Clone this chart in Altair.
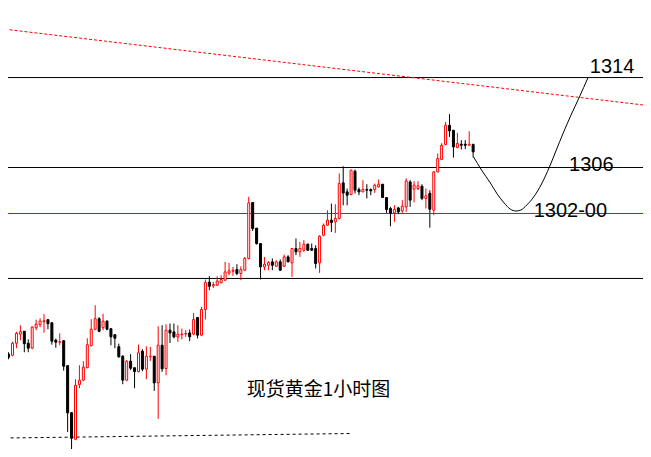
import altair as alt
import pandas as pd

# ---- candle data (1-hour gold) ----
opens = [1289.65,1289.48,1289.39,1290.45,1291.25,1291.51,1290.45,1290.01,1291.82,1292.09,
1292.35,1292.53,1292.26,1290.72,1290.54,1290.67,1288.46,1284.30,1281.95,1286.78,
1287.18,1288.28,1290.23,1291.69,1292.62,1291.82,1292.40,1291.73,1291.20,1290.14,
1289.30,1287.18,1288.86,1288.28,1287.93,1289.74,1288.15,1289.25,1289.30,1286.94,
1290.27,1288.21,1291.60,1291.45,1291.01,1291.20,1291.27,1291.36,1291.25,1292.72,
1291.16,1293.43,1295.85,1295.52,1295.58,1295.79,1296.03,1296.67,1296.82,1296.97,
1296.62,1296.91,1297.95,1302.90,1300.63,1299.27,1297.20,1297.35,1297.65,1297.26,
1297.65,1297.26,1298.09,1297.56,1298.83,1298.53,1298.68,1299.21,1298.83,1298.83,
1297.56,1300.01,1300.89,1301.34,1301.19,1301.49,1304.64,1303.84,1303.61,1305.67,
1304.05,1303.84,1304.05,1304.05,1304.05,1304.28,1304.52,1303.34,1302.37,1301.98,
1302.42,1302.16,1302.51,1304.72,1304.08,1304.14,1304.34,1303.26,1303.72,1302.22,
1305.61,1306.71,1308.03,1309.74,1309.30,1307.77,1308.06,1308.06,1307.97,1308.03]

highs = [1289.74,1289.65,1290.58,1291.47,1292.04,1291.51,1290.80,1291.95,1292.53,1292.66,
1293.02,1292.57,1292.31,1290.85,1291.33,1290.72,1288.50,1284.34,1287.26,1288.50,
1288.86,1290.89,1292.57,1293.81,1292.75,1293.06,1292.49,1291.78,1291.25,1290.41,
1289.39,1288.95,1289.48,1288.28,1290.32,1289.92,1290.18,1290.12,1289.30,1291.95,
1292.04,1292.13,1292.19,1292.19,1292.04,1291.75,1291.60,1291.66,1293.13,1292.78,
1293.66,1296.09,1296.38,1295.88,1296.38,1296.47,1297.65,1297.56,1297.20,1297.44,
1297.26,1298.09,1303.40,1302.93,1300.65,1299.27,1298.09,1297.71,1297.95,1297.80,
1297.86,1298.30,1298.24,1298.83,1299.72,1299.42,1299.57,1299.27,1299.27,1299.12,
1300.01,1301.04,1302.22,1302.81,1302.75,1305.47,1306.11,1304.14,1305.82,1305.82,
1304.23,1304.88,1304.52,1304.14,1304.58,1304.94,1304.52,1303.34,1302.51,1302.66,
1302.51,1303.11,1305.03,1304.88,1304.79,1304.79,1304.52,1304.14,1303.99,1305.67,
1307.24,1308.15,1310.03,1310.72,1309.30,1309.06,1308.42,1308.42,1309.21,1308.12]

lows = [1289.30,1289.03,1289.30,1290.01,1290.72,1289.65,1289.65,1289.92,1291.60,1291.87,
1291.38,1291.69,1290.32,1290.05,1290.27,1288.02,1282.60,1280.45,1281.87,1286.47,
1287.09,1288.24,1290.18,1291.60,1291.42,1291.60,1291.60,1290.27,1290.01,1289.17,
1286.82,1287.09,1288.06,1286.47,1287.88,1287.97,1287.26,1288.88,1286.23,1283.75,
1287.91,1287.62,1290.48,1290.87,1290.57,1290.78,1291.01,1290.63,1291.16,1290.87,
1291.07,1292.55,1295.14,1295.34,1295.52,1295.76,1295.96,1296.47,1296.41,1296.47,
1296.03,1296.85,1297.86,1300.39,1299.18,1296.09,1296.91,1296.91,1296.91,1297.20,
1296.85,1297.20,1297.62,1296.32,1298.24,1298.09,1298.53,1298.62,1298.62,1297.06,
1296.67,1299.92,1300.83,1300.30,1300.21,1301.40,1302.66,1302.66,1303.55,1303.70,
1303.55,1303.84,1303.26,1303.55,1303.75,1304.23,1303.34,1301.98,1300.80,1301.19,
1301.87,1301.98,1302.07,1302.51,1302.93,1303.99,1303.11,1302.37,1300.67,1301.78,
1305.58,1306.65,1307.97,1308.71,1306.88,1307.71,1307.59,1307.62,1307.97,1306.88]

closes = [1289.39,1289.21,1290.45,1291.33,1291.47,1290.41,1290.01,1291.87,1292.13,1292.40,
1292.44,1292.18,1290.63,1290.54,1290.58,1288.41,1284.28,1282.04,1286.73,1287.18,
1288.33,1290.32,1291.69,1292.62,1291.51,1292.40,1291.69,1291.02,1290.89,1289.25,
1287.18,1288.86,1288.24,1287.93,1289.61,1288.15,1289.30,1289.30,1286.94,1290.27,
1288.18,1291.60,1291.36,1291.01,1291.25,1291.25,1291.31,1291.01,1292.55,1291.16,
1293.43,1295.82,1295.49,1295.64,1295.96,1296.09,1296.76,1296.85,1296.91,1296.62,
1296.97,1297.95,1302.87,1300.60,1299.27,1297.20,1297.44,1297.59,1297.35,1297.65,
1296.91,1298.09,1297.65,1298.83,1298.53,1298.83,1299.21,1298.68,1298.68,1297.50,
1299.92,1300.89,1301.34,1301.13,1301.49,1304.58,1303.75,1303.55,1305.76,1303.99,
1303.84,1304.05,1303.99,1303.93,1304.43,1304.52,1303.34,1302.28,1301.93,1302.28,
1302.07,1302.57,1304.81,1303.11,1304.43,1304.37,1303.26,1303.49,1302.31,1305.61,
1306.80,1307.97,1309.74,1309.24,1307.82,1308.12,1307.97,1307.97,1308.06,1307.38]

# horizontal levels
level_values = [1313.96, 1306.0, 1301.93, 1296.18]
level_colors = ["#000000", "#000000", "#ff0000", "#000000"]

# red dotted down-trend line (bar index, price)
trend_x = [0, 163]
trend_y = [1318.24, 1311.50]

# black dotted support line at the bottom
support_x = [0, 88.1]
support_y = [1282.06, 1282.46]

# projected path (bar index, price)
path_x = [119.125, 121.125, 123.375, 125.125, 126.875, 128.375, 129.875, 131.125,
          132.625, 134.375, 136.375, 138.375, 140.125, 141.875, 143.875, 145.875, 148.25]
path_y = [1306.93, 1305.78, 1304.63, 1303.65, 1302.86, 1302.33, 1302.15, 1302.24,
          1302.68, 1303.39, 1304.54, 1306.04, 1307.55, 1309.05, 1310.65, 1312.15, 1314.01]

# labels
label_text = ["1314", "1306", "1302-00"]
label_x = [148.625, 143.375, 134.375]
label_y = [1314.34, 1305.69, 1301.59]

title_text = ["现货黄金1小时图"]
title_x = [61.5]
title_y = [1285.78]

# ---- build ----
candles = pd.DataFrame({
    "idx": list(range(len(opens))),
    "open": opens, "high": highs, "low": lows, "close": closes,
})
candles["dir"] = ["up" if c > o else "down" for o, c in zip(opens, closes)]

levels = pd.DataFrame({"level": level_values, "c": level_colors})
trend = pd.DataFrame({"x": trend_x, "y": trend_y})
support = pd.DataFrame({"x": support_x, "y": support_y})
path = pd.DataFrame({"x": path_x, "y": path_y})
labels = pd.DataFrame({"t": label_text, "x": label_x, "y": label_y})
title = pd.DataFrame({"t": title_text, "x": title_x, "y": title_y})

xs = alt.Scale(domain=[2.125, 160.875], nice=False, zero=False)
ys = alt.Scale(domain=[1281.088, 1320.115], nice=False, zero=False)
dir_stroke = alt.Scale(domain=["up", "down"], range=["#ff0000", "#000000"])
dir_fill = alt.Scale(domain=["up", "down"], range=["#ffffff", "#000000"])

level_layer = alt.Chart(levels).mark_rule(strokeWidth=1).encode(
    y=alt.Y("level:Q", scale=ys, axis=None),
    color=alt.Color("c:N", scale=None, legend=None),
)

trend_layer = alt.Chart(trend).mark_line(
    color="#ff0000", strokeWidth=1, strokeDash=[3, 2], clip=True
).encode(
    x=alt.X("x:Q", scale=xs, axis=None),
    y=alt.Y("y:Q", scale=ys, axis=None),
)

support_layer = alt.Chart(support).mark_line(
    color="#000000", strokeWidth=1, strokeDash=[3, 3], clip=True
).encode(
    x=alt.X("x:Q", scale=xs, axis=None),
    y=alt.Y("y:Q", scale=ys, axis=None),
)

wicks = alt.Chart(candles).mark_rule(strokeWidth=1, clip=True).encode(
    x=alt.X("idx:Q", scale=xs, axis=None),
    y=alt.Y("low:Q", scale=ys, axis=None),
    y2="high:Q",
    color=alt.Color("dir:N", scale=dir_stroke, legend=None),
)

bodies = alt.Chart(candles).mark_bar(size=2, strokeWidth=1, orient="vertical", clip=True).encode(
    x=alt.X("idx:Q", scale=xs, axis=None),
    y=alt.Y("open:Q", scale=ys, axis=None),
    y2="close:Q",
    fill=alt.Fill("dir:N", scale=dir_fill, legend=None),
    stroke=alt.Stroke("dir:N", scale=dir_stroke, legend=None),
)

path_layer = alt.Chart(path).mark_line(
    color="#000000", strokeWidth=1, interpolate="monotone", clip=True
).encode(
    x=alt.X("x:Q", scale=xs, axis=None),
    y=alt.Y("y:Q", scale=ys, axis=None),
)

label_layer = alt.Chart(labels).mark_text(
    align="left", baseline="alphabetic", font="Liberation Sans", fontSize=20, color="#000000"
).encode(
    x=alt.X("x:Q", scale=xs, axis=None),
    y=alt.Y("y:Q", scale=ys, axis=None),
    text="t:N",
)

title_layer = alt.Chart(title).mark_text(
    align="left", baseline="alphabetic", font="Noto Sans CJK SC", fontSize=19, color="#000000"
).encode(
    x=alt.X("x:Q", scale=xs, axis=None),
    y=alt.Y("y:Q", scale=ys, axis=None),
    text="t:N",
)

chart = alt.layer(
    level_layer, trend_layer, support_layer, wicks, bodies, path_layer, label_layer, title_layer
).properties(
    width=635, height=441, padding=0, background="#ffffff",
    autosize=alt.AutoSizeParams(type="none"),
).configure_view(stroke=None)

chart.save("out.html", embed_options={"renderer": "svg", "actions": False})
